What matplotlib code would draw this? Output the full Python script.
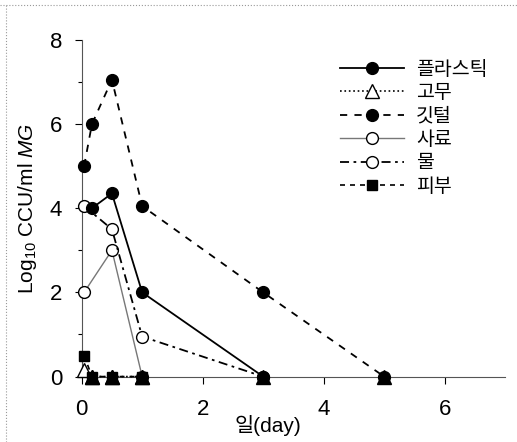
import matplotlib
matplotlib.use('Agg')
import matplotlib.pyplot as plt
from matplotlib.lines import Line2D

plt.rcParams['font.family'] = ['Liberation Sans', 'Noto Sans CJK KR']
plt.rcParams['mathtext.fontset'] = 'custom'
plt.rcParams['mathtext.rm'] = 'Liberation Sans'
plt.rcParams['mathtext.it'] = 'Liberation Sans:italic'

# 시간(day)과 log10 CCU/ml 값
plastic_x = [0.17, 0.5, 1, 3]
plastic_y = [4, 4.35, 2, 0]
rubber_x = [0.04, 0.17, 0.5, 1]
rubber_y = [0.15, 0, 0, 0]
feather_x = [0.04, 0.17, 0.5, 1, 3, 5]
feather_y = [5, 6, 7.05, 4.05, 2, 0]
feed_x = [0.04, 0.5, 1]
feed_y = [2, 3, 0]
water_x = [0.04, 0.5, 1, 3]
water_y = [4.05, 3.5, 0.95, 0]
skin_x = [0.04, 0.17, 0.5, 1]
skin_y = [0.5, 0, 0, 0]
zero_x = [0.17, 0.5, 1, 3, 5]
zero_y = [0, 0, 0, 0, 0]

fig = plt.figure(figsize=(5.17, 4.42), dpi=100)
ax = fig.add_axes([0.158, 0.148, 0.819, 0.762])

ms = 8.5
ax.plot(plastic_x, plastic_y, '-', color='black', lw=1.3, marker='o', ms=ms,
        mfc='black', mec='black', label='플라스틱', clip_on=False, zorder=5)
ax.plot(rubber_x, rubber_y, ':', color='black', lw=1.2, marker='^', ms=ms + 1,
        mfc='white', mec='black', label='고무', clip_on=False, zorder=4)
ax.plot(feather_x, feather_y, '--', color='black', lw=1.3, dashes=(4, 4), marker='o', ms=ms,
        mfc='black', mec='black', label='깃털', clip_on=False, zorder=5)
ax.plot(feed_x, feed_y, '-', color='#777777', lw=1.0, marker='o', ms=ms,
        mfc='white', mec='black', label='사료', clip_on=False, zorder=4)
ax.plot(water_x, water_y, '--', color='black', lw=1.3, dashes=(5, 2.5, 1.5, 2.5), marker='o', ms=ms,
        mfc='white', mec='black', label='물', clip_on=False, zorder=4)
ax.plot(skin_x, skin_y, '--', color='black', lw=1.2, dashes=(3, 3), marker='s', ms=ms - 1,
        mfc='black', mec='black', label='피부', clip_on=False, zorder=6)

# 0 위에 겹친 삼각형 표시
ax.plot(zero_x, zero_y, linestyle='none', marker='^', ms=ms + 2,
        mfc='black', mec='black', clip_on=False, zorder=7)

ax.set_xlim(0, 7)
ax.set_ylim(0, 8)
ax.set_xticks([0, 2, 4, 6])
ax.set_yticks([0, 2, 4, 6, 8])
ax.set_yticks([1, 3, 5, 7], minor=True)
ax.tick_params(axis='both', which='major', labelsize=16, direction='out', length=5, width=0.8)
ax.tick_params(axis='y', which='minor', direction='out', length=3, width=0.8)
ax.tick_params(axis='x', pad=11)
ax.tick_params(axis='y', pad=9)

for side in ['top', 'right']:
    ax.spines[side].set_visible(False)
ax.spines['left'].set_linewidth(0.8)
ax.spines['bottom'].set_linewidth(0.8)
ax.spines['left'].set_color('#555555')
ax.spines['bottom'].set_color('#555555')

ax.set_xlabel('일(day)', fontsize=15)
ax.xaxis.set_label_coords(0.44, -0.115)
ax.set_ylabel(r'Log$_{10}$ CCU/ml $\mathit{MG}$', fontsize=15)
ax.yaxis.set_label_coords(-0.10, 0.5)

ax.legend(loc='upper right', bbox_to_anchor=(1.0, 0.99), frameon=False, fontsize=14,
          handlelength=3.3, handletextpad=0.6, labelspacing=0.3)

# 바깥 점선 테두리
fig.add_artist(Line2D([0, 1], [0.988, 0.988], transform=fig.transFigure,
                      color='#999999', lw=0.8, ls=':'))
fig.add_artist(Line2D([0.012, 0.012], [0, 0.988], transform=fig.transFigure,
                      color='#999999', lw=0.8, ls=':'))

fig.savefig('out.png', dpi=100)
